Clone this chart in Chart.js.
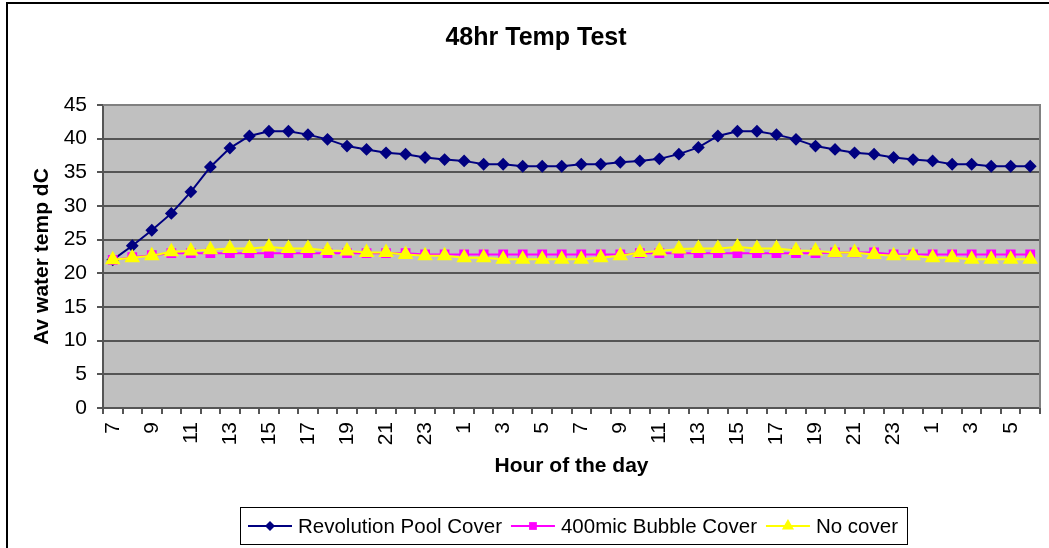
<!DOCTYPE html>
<html>
<head>
<meta charset="utf-8">
<title>48hr Temp Test</title>
<script src="https://cdn.jsdelivr.net/npm/chart.js@4/dist/chart.umd.min.js"></script>
<style>
  html, body { margin: 0; padding: 0; background: #fff; }
  #wrap { width: 1049px; height: 548px; }
</style>
</head>
<body>
<div id="wrap"><canvas id="tempChart" width="1049" height="548"></canvas></div>
<script>
// hour of the day for each reading (48 hourly readings from 7am)
const hours = [7, 8, 9, 10, 11, 12, 13, 14, 15, 16, 17, 18, 19, 20, 21, 22, 23,
    0, 1, 2, 3, 4, 5, 6, 7, 8, 9, 10, 11, 12, 13, 14, 15, 16, 17, 18, 19, 20, 21, 22, 23,
    0, 1, 2, 3, 4, 5, 6];

const revolutionCover = [22.0, 24.1, 26.4, 28.9, 32.1, 35.8, 38.6, 40.4, 41.1, 41.1,
    40.6, 39.9, 38.9, 38.4, 37.9, 37.7, 37.2, 36.9, 36.7, 36.2,
    36.2, 35.9, 35.9, 35.9, 36.2, 36.2, 36.5, 36.7, 37.0, 37.7,
    38.7, 40.4, 41.1, 41.1, 40.6, 39.9, 38.9, 38.4, 37.9, 37.7,
    37.2, 36.9, 36.7, 36.2, 36.2, 35.9, 35.9, 35.9];

const bubbleCover = [22.0, 22.4, 22.7, 23.0, 23.0, 23.0, 23.0, 23.0, 23.0, 23.0,
    23.0, 23.0, 23.0, 23.0, 23.0, 23.0, 22.8, 22.8, 22.8, 22.8,
    22.8, 22.8, 22.8, 22.8, 22.8, 22.8, 22.8, 23.0, 23.0, 23.0,
    23.0, 23.0, 23.0, 23.0, 23.0, 23.0, 23.0, 23.1, 23.1, 23.1,
    22.8, 22.8, 22.8, 22.8, 22.8, 22.8, 22.8, 22.8];

const noCover = [22.0, 22.3, 22.6, 23.2, 23.3, 23.5, 23.7, 23.7, 23.9, 23.7,
    23.7, 23.4, 23.3, 23.1, 23.1, 22.8, 22.6, 22.6, 22.3, 22.3,
    22.1, 22.1, 22.1, 22.1, 22.1, 22.3, 22.6, 23.1, 23.3, 23.6,
    23.7, 23.7, 23.9, 23.7, 23.7, 23.4, 23.3, 23.1, 23.1, 22.8,
    22.6, 22.6, 22.3, 22.3, 22.1, 22.1, 22.1, 22.1];

const seriesNames = ['Revolution Pool Cover', '400mic Bubble Cover', 'No cover'];
const chartTitle = '48hr Temp Test';
const yMin = 0, yMax = 45, yStep = 5;

const FONT = "'Liberation Sans', Arial, sans-serif";
Chart.defaults.font.family = FONT;
Chart.defaults.color = '#000';

// Excel style marker shapes, used in the legend
function drawMarker(ctx, style, x, y, r) {
    ctx.beginPath();
    if (style === 'rectRot') {
        ctx.moveTo(x - r, y); ctx.lineTo(x, y - r); ctx.lineTo(x + r, y); ctx.lineTo(x, y + r);
    } else if (style === 'rect') {
        const s = r * Math.SQRT1_2;
        ctx.rect(x - s, y - s, 2 * s, 2 * s);
    } else {
        ctx.moveTo(x, y - r);
        ctx.lineTo(x + r * 0.866, y + r * 0.5);
        ctx.lineTo(x - r * 0.866, y + r * 0.5);
    }
    ctx.closePath();
    ctx.fill();
}

// grey plot area, frame, title and outer border
const plotFrame = {
    id: 'plotFrame',
    beforeDraw(chart) {
        const { ctx, chartArea: a } = chart;
        ctx.save();
        ctx.fillStyle = '#c0c0c0';
        ctx.fillRect(a.left, a.top, a.right - a.left, a.bottom - a.top);
        ctx.restore();
    },
    beforeDatasetsDraw(chart) {
        const { ctx, chartArea: a } = chart;
        ctx.save();
        ctx.strokeStyle = '#808080';
        ctx.lineWidth = 2;
        ctx.beginPath();
        ctx.moveTo(a.left, a.top);
        ctx.lineTo(a.right, a.top);
        ctx.lineTo(a.right, a.bottom);
        ctx.stroke();
        ctx.restore();
    },
    afterDraw(chart) {
        const ctx = chart.ctx;
        ctx.save();
        ctx.fillStyle = '#000';
        ctx.font = 'bold 25px ' + FONT;
        ctx.textAlign = 'center';
        ctx.textBaseline = 'middle';
        ctx.fillText(chartTitle, 536, 38);
        ctx.strokeStyle = '#000';
        ctx.lineWidth = 2;
        ctx.strokeRect(7, 3, chart.width + 20, chart.height + 20);
        ctx.restore();
    }
};

// boxed legend with line + marker samples
const boxLegend = {
    id: 'boxLegend',
    afterDraw(chart) {
        const ctx = chart.ctx;
        const left = 240, top = 507, bottom = 544, midY = 526;
        let x = 248;
        ctx.save();
        ctx.font = '20.5px ' + FONT;
        ctx.textBaseline = 'middle';
        chart.data.datasets.forEach(ds => {
            ctx.strokeStyle = ds.borderColor;
            ctx.lineWidth = 2;
            ctx.beginPath();
            ctx.moveTo(x, midY);
            ctx.lineTo(x + 44, midY);
            ctx.stroke();
            ctx.fillStyle = ds.pointBackgroundColor;
            drawMarker(ctx, ds.pointStyle, x + 22, midY, ds.pointRadius);
            ctx.fillStyle = '#000';
            ctx.fillText(ds.label, x + 50, midY + 1);
            x += 50 + ctx.measureText(ds.label).width + 9;
        });
        ctx.strokeStyle = '#000';
        ctx.lineWidth = 1;
        ctx.strokeRect(left + 0.5, top + 0.5, x - left, bottom - top);
        ctx.restore();
    }
};

const ctx = document.getElementById('tempChart').getContext('2d');

new Chart(ctx, {
    type: 'line',
    data: {
        labels: hours,
        datasets: [{
            label: seriesNames[0],
            data: revolutionCover,
            borderColor: '#000080',
            backgroundColor: '#000080',
            pointBackgroundColor: '#000080',
            pointBorderColor: '#000080',
            pointStyle: 'rectRot',
            pointRadius: 5,
            borderWidth: 2,
            order: 3
        }, {
            label: seriesNames[1],
            data: bubbleCover,
            borderColor: '#ff00ff',
            backgroundColor: '#ff00ff',
            pointBackgroundColor: '#ff00ff',
            pointBorderColor: '#ff00ff',
            pointStyle: 'rect',
            pointRadius: 5.5,
            borderWidth: 2,
            order: 2
        }, {
            label: seriesNames[2],
            data: noCover,
            borderColor: '#ffff00',
            backgroundColor: '#ffff00',
            pointBackgroundColor: '#ffff00',
            pointBorderColor: '#ffff00',
            pointStyle: 'triangle',
            pointRadius: 7,
            borderWidth: 2,
            order: 1
        }]
    },
    options: {
        responsive: false,
        animation: false,
        layout: { padding: { left: 10, right: 5, top: 105, bottom: 50 } },
        elements: { line: { tension: 0 }, point: { borderWidth: 1 } },
        plugins: {
            legend: { display: false },
            tooltip: { enabled: false },
            title: { display: false }
        },
        scales: {
            x: {
                offset: true,
                afterFit(scale) {
                    scale.height = 90;
                    scale.paddingLeft = 0;
                    scale.paddingRight = 0;
                },
                grid: {
                    offset: true,
                    drawOnChartArea: false,
                    drawTicks: true,
                    tickLength: 6,
                    color: '#555',
                    lineWidth: 2
                },
                border: { color: '#555', width: 2 },
                ticks: {
                    autoSkip: false,
                    maxRotation: 90,
                    minRotation: 90,
                    padding: 8,
                    font: { size: 21 },
                    color: '#000',
                    callback: (v, i) => (i % 2 === 0 ? hours[i] : '')
                },
                title: {
                    display: true,
                    text: 'Hour of the day',
                    font: { size: 21, weight: 'bold' },
                    color: '#000',
                    padding: { top: 0, bottom: 19 }
                }
            },
            y: {
                min: yMin,
                max: yMax,
                afterFit(scale) { scale.width = 93; },
                grid: { color: '#555', lineWidth: 2, tickLength: 6 },
                border: { color: '#555', width: 2 },
                ticks: {
                    stepSize: yStep,
                    padding: 10,
                    font: { size: 21 },
                    color: '#000'
                },
                title: {
                    display: true,
                    text: 'Av water temp dC',
                    font: { size: 21, weight: 'bold' },
                    color: '#000',
                    padding: { top: 20, bottom: 0 }
                }
            }
        }
    },
    plugins: [plotFrame, boxLegend]
});
</script>
</body>
</html>
